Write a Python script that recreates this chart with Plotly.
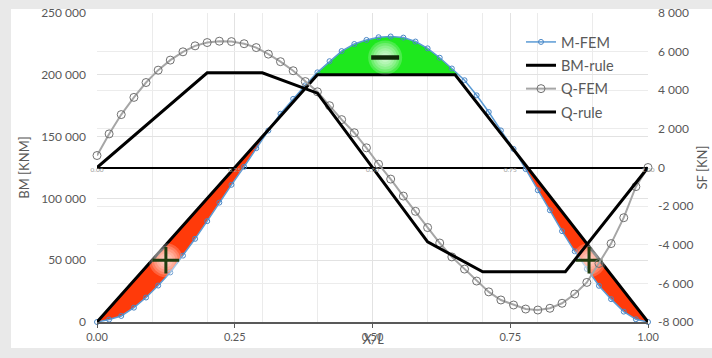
import numpy as np
import plotly.graph_objects as go

# ---------------- data ----------------
x_nodes = [0.0, 0.022, 0.044, 0.067, 0.089, 0.111, 0.133, 0.156, 0.178, 0.2,
           0.222, 0.244, 0.267, 0.289, 0.311, 0.333, 0.356, 0.378, 0.4, 0.422,
           0.444, 0.467, 0.489, 0.511, 0.533, 0.556, 0.578, 0.6, 0.622, 0.644,
           0.667, 0.689, 0.711, 0.733, 0.756, 0.778, 0.8, 0.822, 0.844, 0.867,
           0.889, 0.911, 0.933, 0.956, 0.978, 1.0]

m_fem = [0, 2000, 4900, 11600, 19800, 29500, 40100, 53700, 67300, 81600,
         96600, 111000, 125600, 140600, 154900, 168500, 180500, 191500, 202000, 211000,
         219200, 224900, 228200, 230400, 231000, 230100, 226900, 221400, 213800, 205100,
         195600, 183400, 169900, 155000, 140000, 123700, 106600, 90400, 73500, 57200,
         43000, 29300, 18500, 8400, 2200, 0]

q_fem = [620, 1740, 2740, 3630, 4400, 5040, 5560, 5990, 6300, 6470,
         6540, 6520, 6410, 6210, 5870, 5480, 5010, 4450, 3920, 3200,
         2480, 1800, 1020, 170, -600, -1480, -2270, -3110, -3910, -4630,
         -5260, -5880, -6440, -6860, -7120, -7330, -7380, -7290, -7030, -6550,
         -5950, -4970, -3940, -2600, -990, 0]

bm_rule_x = [0.0, 0.4, 0.65, 1.0]
bm_rule_y = [0, 200000, 200000, 0]

q_rule_x = [0.0, 0.2, 0.3, 0.4, 0.6, 0.7, 0.85, 1.0]
q_rule_y = [0, 4900, 4900, 3850, -3850, -5400, -5400, 0]

plus_x = [0.125, 0.893]
plus_y = [50000, 50000]
minus_x = [0.523]
minus_y = [214000]

x_tickvals = [0.0, 0.25, 0.5, 0.75, 1.0]
x_ticktext = ["0.00", "0.25", "0.50", "0.75", "1.00"]
y1_tickvals = [0, 50000, 100000, 150000, 200000, 250000]
y1_ticktext = ["0", "50 000", "100 000", "150 000", "200 000", "250 000"]
y2_tickvals = [-8000, -6000, -4000, -2000, 0, 2000, 4000, 6000, 8000]
y2_ticktext = ["-8 000", "-6 000", "-4 000", "-2 000", "0", "2 000", "4 000", "6 000", "8 000"]

# ---------------- helpers ----------------
def fill_polys(x, top, bot):
    x = np.asarray(x, float); top = np.asarray(top, float); bot = np.asarray(bot, float)
    d = top - bot
    polys = []
    cx, ct, cb = [], [], []
    for i in range(len(x)):
        if d[i] > 0:
            if not cx and i > 0:
                t = d[i-1] / (d[i-1] - d[i])
                xc = x[i-1] + t * (x[i] - x[i-1]); yc = bot[i-1] + t * (bot[i] - bot[i-1])
                cx.append(xc); ct.append(yc); cb.append(yc)
            cx.append(x[i]); ct.append(top[i]); cb.append(bot[i])
        elif cx:
            t = d[i-1] / (d[i-1] - d[i])
            xc = x[i-1] + t * (x[i] - x[i-1]); yc = bot[i-1] + t * (bot[i] - bot[i-1])
            cx.append(xc); ct.append(yc); cb.append(yc)
            polys.append((cx + cx[::-1], ct + cb[::-1]))
            cx, ct, cb = [], [], []
    if cx:
        polys.append((cx + cx[::-1], ct + cb[::-1]))
    return polys

rule_at_nodes = np.interp(x_nodes, bm_rule_x, bm_rule_y)
red_polys = fill_polys(x_nodes, rule_at_nodes, m_fem)
green_polys = fill_polys(x_nodes, m_fem, np.full(len(x_nodes), max(bm_rule_y)))

fig = go.Figure()

for px_, py_ in red_polys:
    fig.add_trace(go.Scatter(x=px_, y=py_, fill="toself", fillcolor="#ff3a0a",
                             line=dict(width=0), mode="lines", showlegend=False,
                             hoverinfo="skip"))
for px_, py_ in green_polys:
    fig.add_trace(go.Scatter(x=px_, y=py_, fill="toself", fillcolor="#1ee81e",
                             line=dict(width=0), mode="lines", showlegend=False,
                             hoverinfo="skip"))

# Q-FEM
fig.add_trace(go.Scatter(x=x_nodes, y=q_fem, yaxis="y2", name="Q-FEM", legendrank=3,
                         legendgroup="c", mode="lines+markers", cliponaxis=False,
                         line=dict(color="#a6a6a6", width=2),
                         marker=dict(symbol="circle-open", size=8,
                                     color="#707070", line=dict(width=1))))
# Q-rule
fig.add_trace(go.Scatter(x=q_rule_x, y=q_rule_y, yaxis="y2", name="Q-rule", legendrank=4,
                         legendgroup="d", mode="lines", line=dict(color="#000000", width=3)))
# M-FEM
fig.add_trace(go.Scatter(x=x_nodes, y=m_fem, name="M-FEM", legendrank=1,
                         legendgroup="a", mode="lines+markers", cliponaxis=False,
                         line=dict(color="#5b9bd5", width=1.5),
                         marker=dict(symbol="circle-open", size=5,
                                     color="#4a86c5", line=dict(width=1))))
# BM-rule
fig.add_trace(go.Scatter(x=bm_rule_x, y=bm_rule_y, name="BM-rule", legendrank=2,
                         legendgroup="b", mode="lines", line=dict(color="#000000", width=3)))

# soft glows (stacked translucent discs)
glow_x = plus_x + minus_x
glow_y = plus_y + minus_y
for s in [34, 29, 24, 19, 14, 9]:
    fig.add_trace(go.Scatter(x=glow_x, y=glow_y, mode="markers",
                             showlegend=False, hoverinfo="skip", cliponaxis=False,
                             marker=dict(size=s, color="rgba(255,255,255,0.2)",
                                         line=dict(width=0))))
fig.add_trace(go.Scatter(x=plus_x, y=plus_y, mode="markers", showlegend=False, hoverinfo="skip",
                         marker=dict(symbol="cross-thin", size=19, color="#1f3d0f",
                                     line=dict(width=3, color="#1f3d0f"))))
fig.add_trace(go.Scatter(x=minus_x, y=minus_y, mode="markers", showlegend=False, hoverinfo="skip",
                         marker=dict(symbol="line-ew", size=20, color="#0f2a08",
                                     line=dict(width=4.5, color="#0f2a08"))))

# small labels of the secondary axis at SF = 0
fig.add_trace(go.Scatter(x=x_tickvals, y=[0] * len(x_tickvals), yaxis="y2", mode="text",
                         text=x_ticktext, textposition="bottom center", cliponaxis=False,
                         textfont=dict(size=6.5, color="#9a9a9a"),
                         showlegend=False, hoverinfo="skip"))

W, H = 712, 358
L, R, T, B = 97, 64, 13, 36
pw, ph = W - L - R, H - T - B

def px(p):
    return (p - L) / pw

def py(q):
    return (H - B - q) / ph

fig.update_layout(
    width=W, height=H,
    margin=dict(l=L, r=R, t=T, b=B),
    paper_bgcolor="#e9e9e9",
    plot_bgcolor="rgba(0,0,0,0)",
    separators=". ",
    font=dict(family="Lato", color="#595959", size=12),
    showlegend=True,
    legend=dict(x=px(521), y=py(26), xanchor="left", yanchor="top",
                bgcolor="rgba(0,0,0,0)", font=dict(size=14.5, color="#595959"),
                itemwidth=30, traceorder="grouped", tracegroupgap=1.5),
    shapes=[dict(type="rect", xref="paper", yref="paper", layer="below",
                 x0=px(11), x1=px(715), y0=py(348), y1=py(9),
                 fillcolor="#ffffff", line=dict(width=0))],
    xaxis=dict(range=[0, 1], tickvals=x_tickvals, ticktext=x_ticktext,
               showgrid=True, gridcolor="#e2e2e2", gridwidth=1,
               minor=dict(dtick=0.1, tick0=0, showgrid=True, gridcolor="#ebebeb"),
               showline=True, linecolor="#595959", linewidth=1.5,
               ticks="outside", ticklen=4, tickcolor="#595959",
               zeroline=False, tickfont=dict(size=11), automargin=False),
    yaxis=dict(range=[0, 250000], tickvals=y1_tickvals, ticktext=y1_ticktext,
               showgrid=True, gridcolor="#e2e2e2", zeroline=False, showline=False,
               ticklabelstandoff=10, automargin=False,
               title=dict(text="BM [KNM]", font=dict(size=13), standoff=8)),
    yaxis2=dict(range=[-8000, 8000], tickvals=y2_tickvals, ticktext=y2_ticktext,
                overlaying="y", side="right", showgrid=True, gridcolor="#ececec",
                zeroline=True, zerolinecolor="#000000", zerolinewidth=2,
                showline=False, ticklabelstandoff=9, automargin=False,
                title=dict(text="SF [KN]", font=dict(size=13), standoff=5)),
    annotations=[dict(text="<i>X/L</i>", xref="paper", yref="paper", x=0.5, y=py(338),
                      showarrow=False, font=dict(size=14, color="#595959"),
                      xanchor="center", yanchor="middle")],
)

fig.write_html("out.html", config={"displayModeBar": False},
               post_script="document.body.style.margin='0';document.body.style.overflow='hidden';")
